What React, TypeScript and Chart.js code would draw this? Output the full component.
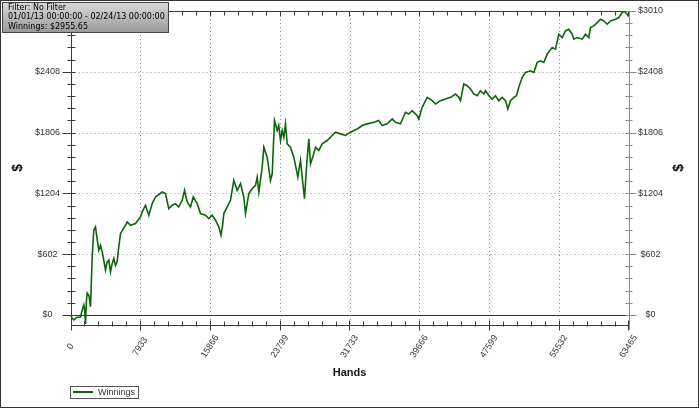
import React, { useEffect, useRef } from 'react';
import { Chart, registerables } from 'chart.js';

Chart.register(...registerables);

// ---- data ----
const hands = [
  0, 171, 375, 682, 1137, 1365, 1513, 1626, 1706, 1820, 1899, 2104, 2275, 2468, 2650, 2843,
  3014, 3219, 3412, 3605, 3810, 3981, 4151, 4356, 4549, 4720, 4925, 5118, 5311, 5459, 5687,
  5971, 6256, 6449, 6824, 7393, 7962, 8155, 8530, 8906, 9292, 9668, 10009, 10430, 10805,
  11181, 11567, 11942, 12318, 12704, 12966, 13273, 13648, 13956, 14411, 14786, 15354, 15730,
  16117, 16492, 16867, 17117, 17288, 17436, 17823, 18198, 18573, 18960, 19335, 19711, 19904,
  20280, 20666, 21041, 21235, 21417, 21804, 21986, 22372, 22747, 22941, 23202, 23510, 23691,
  23885, 24078, 24260, 24453, 24646, 25022, 25398, 25705, 25853, 26160, 26353, 26615, 26842,
  27104, 27297, 27672, 27866, 28241, 28628, 29196, 29765, 30140, 30709, 31278, 31846, 32608,
  33177, 33746, 34497, 35065, 35452, 36021, 36590, 36965, 37533, 38102, 38478, 38864, 39433,
  39615, 40001, 40570, 41139, 41514, 42083, 42651, 43220, 43789, 44164, 44357, 44733, 45119,
  45495, 45870, 46257, 46632, 47008, 47201, 47576, 47963, 48338, 48713, 49100, 49476, 49737,
  50044, 50419, 50727, 50988, 51375, 51750, 52319, 52694, 53081, 53456, 53832, 54218, 54787,
  55162, 55538, 55925, 56300, 56675, 57062, 57244, 57630, 58199, 58575, 58950, 59143, 59519,
  59905, 60281, 60656, 61043, 61418, 61987, 62362, 62749, 62931, 63318, 63465,
];
const winnings = [
  0, -30, -50, -25, -20, 60, 100, 40, -90, 150, 217, 190, 82, 575, 839, 871,
  760, 641, 690, 625, 530, 444, 520, 543, 427, 500, 560, 490, 526, 650, 806,
  850, 888, 921, 888, 905, 970, 1020, 1086, 987, 1102, 1168, 1190, 1217, 1201,
  1053, 1086, 1102, 1069, 1135, 1234, 1118, 1069, 1168, 1102, 1004, 987, 954,
  987, 938, 872, 790, 880, 1004, 1069, 1135, 1333, 1234, 1300, 1168, 1004,
  1201, 1250, 1283, 1365, 1217, 1464, 1661, 1562, 1333, 1398, 1925, 1826, 1875,
  1727, 1826, 1760, 1892, 1694, 1661, 1562, 1431, 1365, 1530, 1365, 1152, 1464,
  1744, 1497, 1596, 1661, 1629, 1694, 1727, 1777, 1810, 1793, 1777, 1810, 1842,
  1875, 1892, 1908, 1925, 1875, 1892, 1941, 1908, 1892, 2007, 1990, 2023, 1974,
  1941, 2056, 2155, 2122, 2089, 2122, 2138, 2155, 2188, 2155, 2122, 2287, 2270,
  2237, 2188, 2171, 2221, 2188, 2221, 2171, 2138, 2171, 2122, 2155, 2122, 2040,
  2122, 2155, 2171, 2254, 2353, 2402, 2418, 2402, 2501, 2517, 2501, 2583, 2649,
  2632, 2780, 2747, 2813, 2829, 2780, 2731, 2747, 2731, 2780, 2747, 2846, 2862,
  2895, 2928, 2912, 2879, 2912, 2928, 2945, 2994, 3010, 2978, 2955.65,
];
const xTickValues = [0, 7933, 15866, 23799, 31733, 39666, 47599, 55532, 63465];
const xTickLabels = ['0', '7933', '15866', '23799', '31733', '39666', '47599', '55532', '63465'];
const yTickValues = [0, 602, 1204, 1806, 2408, 3010];
const yTickLabels = ['$0', '$602', '$1204', '$1806', '$2408', '$3010'];
const infoLines = ['Filter: No Filter', '01/01/13 00:00:00 - 02/24/13 00:00:00', 'Winnings: $2955.65'];
const seriesName = 'Winnings';
const xTitle = 'Hands';
const yTitle = '$';
const X_MIN = 0;
const X_MAX = 63465;
const Y_MIN = -95;
const Y_MAX = 3010;
const MINOR_DIV = 5;

const LINE_COLOR = '#0b660b';

function seg(ctx: CanvasRenderingContext2D, x1: number, y1: number, x2: number, y2: number) {
  ctx.beginPath();
  ctx.moveTo(x1, y1);
  ctx.lineTo(x2, y2);
  ctx.stroke();
}

function minorValues(majors: number[], lo: number, hi: number) {
  const out: { v: number; major: boolean }[] = [];
  const step = majors[1] - majors[0];
  const sub = step / MINOR_DIV;
  const start = majors[0] - Math.ceil((majors[0] - lo) / sub) * sub;
  for (let v = start; v <= hi + 1e-6; v += sub) {
    if (v < lo - 1e-6) continue;
    const major = majors.some((m) => Math.abs(m - v) < sub / 3);
    out.push({ v, major });
  }
  return out;
}

const customPlugin = {
  id: 'customDraw',
  beforeDraw(chart: any) {
    const { ctx, width, height } = chart;
    ctx.save();
    ctx.fillStyle = '#ffffff';
    ctx.fillRect(0, 0, width, height);
    ctx.restore();
  },
  beforeDatasetsDraw(chart: any) {
    const { ctx, chartArea: a, scales } = chart;
    const x = scales.x;
    const y = scales.y;
    ctx.save();
    ctx.lineWidth = 1;
    ctx.strokeStyle = '#8c8c8c';
    ctx.setLineDash([1, 3]);
    xTickValues.forEach((v, i) => {
      if (i === 0 || i === xTickValues.length - 1) return;
      const px = Math.round(x.getPixelForValue(v)) + 0.5;
      seg(ctx, px, a.top, px, a.bottom);
    });
    yTickValues.forEach((v, i) => {
      if (v === 0 || i === yTickValues.length - 1) return;
      const py = Math.round(y.getPixelForValue(v)) + 0.5;
      seg(ctx, a.left, py, a.right, py);
    });
    ctx.setLineDash([]);
    ctx.strokeStyle = '#333333';
    const p0 = Math.round(y.getPixelForValue(0)) + 0.5;
    seg(ctx, a.left, p0, a.right, p0);
    ctx.restore();
  },
  afterDatasetsDraw(chart: any) {
    const { ctx, chartArea: a, scales } = chart;
    const x = scales.x;
    const y = scales.y;
    ctx.save();
    ctx.lineWidth = 1;
    const L = Math.round(a.left) + 0.5;
    const R = Math.round(a.right) + 0.5;
    const T = Math.round(a.top) + 0.5;
    const B = Math.round(a.bottom) + 0.5;

    // left axis
    ctx.strokeStyle = '#3a3a3a';
    seg(ctx, L, T, L, B + 4);
    minorValues(yTickValues, Y_MIN, Y_MAX).forEach(({ v, major }) => {
      const py = Math.round(y.getPixelForValue(v)) + 0.5;
      if (major) seg(ctx, L - 9, py, L + 4, py);
      else seg(ctx, L - 4, py, L + 4, py);
    });
    // top axis
    seg(ctx, L, T, R, T);
    minorValues(xTickValues, X_MIN, X_MAX).forEach(({ v, major }) => {
      const px = Math.round(x.getPixelForValue(v)) + 0.5;
      seg(ctx, px, T, px, T + (major ? 5 : 4));
    });
    // bottom axis
    seg(ctx, L, B, R, B);
    minorValues(xTickValues, X_MIN, X_MAX).forEach(({ v, major }) => {
      const px = Math.round(x.getPixelForValue(v)) + 0.5;
      if (major) seg(ctx, px, B - 5, px, B + 5);
      else seg(ctx, px, B - 4, px, B + 1);
    });
    // right axis
    ctx.strokeStyle = '#8a8a8a';
    seg(ctx, R, T, R, B + 4);
    minorValues(yTickValues, Y_MIN, Y_MAX).forEach(({ v, major }) => {
      const py = Math.round(y.getPixelForValue(v)) + 0.5;
      if (major) seg(ctx, R - 4, py, R + 7, py);
      else seg(ctx, R - 4, py, R + 3, py);
    });

    // y labels
    ctx.fillStyle = '#333333';
    ctx.font = '9px "Liberation Sans", Arial, sans-serif';
    ctx.textAlign = 'center';
    ctx.textBaseline = 'middle';
    yTickValues.forEach((v, i) => {
      const py = y.getPixelForValue(v);
      ctx.fillText(yTickLabels[i], 47.5, py);
      ctx.fillText(yTickLabels[i], 650.5, py);
    });
    // x labels rotated
    xTickValues.forEach((v, i) => {
      const px = x.getPixelForValue(v);
      ctx.save();
      ctx.translate(px, B + 21);
      ctx.rotate((-57 * Math.PI) / 180);
      ctx.fillText(xTickLabels[i], 0, 0);
      ctx.restore();
    });

    // titles
    ctx.fillStyle = '#111111';
    ctx.font = 'bold 11px "Liberation Sans", Arial, sans-serif';
    ctx.fillText(xTitle, (a.left + a.right) / 2, 373);
    ctx.font = 'bold 14px "Liberation Sans", Arial, sans-serif';
    const cy = (a.top + a.bottom) / 2;
    ctx.save();
    ctx.translate(18, cy);
    ctx.rotate(-Math.PI / 2);
    ctx.fillText(yTitle, 0, 0);
    ctx.restore();
    ctx.save();
    ctx.translate(679, cy);
    ctx.rotate(-Math.PI / 2);
    ctx.fillText(yTitle, 0, 0);
    ctx.restore();

    // legend
    ctx.strokeStyle = '#555555';
    ctx.strokeRect(70.5, 386.5, 68, 12);
    ctx.strokeStyle = LINE_COLOR;
    ctx.lineWidth = 2;
    seg(ctx, 73, 392, 93, 392);
    ctx.lineWidth = 1;
    ctx.fillStyle = '#333333';
    ctx.font = '9px "Liberation Sans", Arial, sans-serif';
    ctx.textAlign = 'left';
    ctx.fillText(seriesName, 98, 392.5);

    // info box
    const g = ctx.createLinearGradient(0, 2, 0, 32);
    g.addColorStop(0, '#dadada');
    g.addColorStop(1, '#9a9a9a');
    ctx.fillStyle = g;
    ctx.fillRect(2, 2, 166, 30);
    ctx.strokeStyle = '#444444';
    ctx.strokeRect(2.5, 2.5, 166, 30);
    ctx.fillStyle = '#000000';
    ctx.font = '8px "DejaVu Sans", sans-serif';
    ctx.textAlign = 'left';
    ctx.textBaseline = 'middle';
    infoLines.forEach((t, i) => ctx.fillText(t, 8, 8 + i * 9.3));

    // outer border
    ctx.strokeStyle = '#333333';
    ctx.strokeRect(0.5, 0.5, 698, 407);
    ctx.restore();
  },
};

export default function App() {
  const ref = useRef<HTMLCanvasElement>(null);
  useEffect(() => {
    document.body.style.margin = '0';
    if (!ref.current) return;
    const points = hands.map((h, i) => ({ x: h, y: winnings[i] }));
    const chart = new Chart(ref.current, {
      type: 'line',
      data: {
        datasets: [
          {
            label: seriesName,
            data: points,
            borderColor: LINE_COLOR,
            borderWidth: 1.6,
            pointRadius: 0,
            tension: 0,
            fill: false,
          },
        ],
      },
      options: {
        responsive: false,
        maintainAspectRatio: false,
        animation: false,
        events: [],
        layout: { padding: { left: 0, right: 0, top: 11, bottom: 0 } },
        plugins: { legend: { display: false }, tooltip: { enabled: false } },
        scales: {
          x: {
            type: 'linear',
            min: X_MIN,
            max: X_MAX,
            ticks: { display: false },
            grid: { display: false },
            border: { display: false },
            afterFit: (s: any) => {
              s.height = 85.5;
            },
          },
          y: {
            type: 'linear',
            position: 'left',
            min: Y_MIN,
            max: Y_MAX,
            ticks: { display: false },
            grid: { display: false },
            border: { display: false },
            afterFit: (s: any) => {
              s.width = 70.5;
            },
          },
          y2: {
            type: 'linear',
            position: 'right',
            min: Y_MIN,
            max: Y_MAX,
            ticks: { display: false },
            grid: { display: false },
            border: { display: false },
            afterFit: (s: any) => {
              s.width = 71.5;
            },
          },
        },
      },
      plugins: [customPlugin],
    } as any);
    return () => chart.destroy();
  }, []);
  return (
    <div style={{ position: 'absolute', left: 0, top: 0, width: 700, height: 410 }}>
      <canvas ref={ref} width={700} height={410} style={{ display: 'block' }} />
    </div>
  );
}
